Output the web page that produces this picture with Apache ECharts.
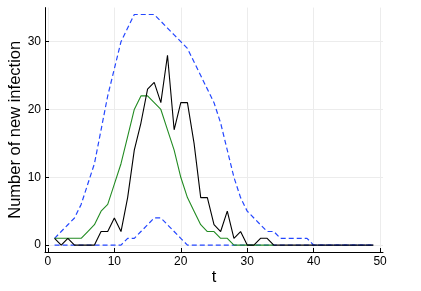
<!DOCTYPE html>
<html><head><meta charset="utf-8">
<script src="https://cdn.jsdelivr.net/npm/echarts@6/dist/echarts.min.js"></script>
<style>html,body{margin:0;padding:0;background:#fff}#c{width:421px;height:291px}</style>
</head><body><div id="c"></div>
<script>
const t = [];
for (let i = 1; i <= 49; i++) t.push(i);
const observed = [1,0,1,0,0,0,0,2,2,4, 2,7,14,18,23,24,21,28,17,21, 21,15,7,7,3,2,5,1,2,0, 0,1,1,0,0,0,0,0,0,0, 0,0,0,0,0,0,0,0,0];
const modelMean = [1,1,1,1,1,2,3,5,6,9, 12,16,20,22,22,21,20,17,14,10, 7,5,3,2,2,1,1,0,0,0, 0,0,0,0];
const upperBand = [1,2,3,4,6,9,12,17,22,26, 30,32,34,34,34,34,33,32,31,30, 29,27,25,23,21,18,14,10,7,5, 4,3,2,2,1,1,1,1,1,0, 0,0,0,0,0,0,0,0,0];
const lowerBand = [0,0,0,0,0,0,0,0,0,0, 0,1,1,2,3,4,4,3,2,1, 0,0,0,0,0,0,0,0,0,0, 0,0,0,0,0,0,0,0,0,0, 0,0,0,0,0,0,0,0,0];
const xTicks = [0,10,20,30,40,50];
const yTicks = [0,10,20,30];

const pairs = arr => arr.map((v, i) => [t[i], v]);
const FONT = 'Liberation Sans';
const chart = echarts.init(document.getElementById('c'), null, {renderer: 'canvas'});
const blue = '#2447ff';
chart.setOption({
  animation: false,
  backgroundColor: '#fff',
  grid: {left: 45, top: 7.6, right: 38, bottom: 39, containLabel: false, outerBoundsMode: 'none'},
  xAxis: {
    type: 'value', min: -0.44, max: 50.44,
    name: 't', nameLocation: 'middle', nameGap: 17, nameMoveOverlap: false,
    nameTextStyle: {fontFamily: FONT, fontSize: 16.5, color: '#000'},
    axisLine: {show: true, onZero: false, lineStyle: {color: '#000', width: 1}},
    axisTick: {show: true, inside: true, length: 4, customValues: xTicks, lineStyle: {color: '#000'}},
    axisLabel: {customValues: xTicks, fontFamily: FONT, fontSize: 12, color: '#000', margin: 4},
    splitLine: {show: true, customValues: xTicks, lineStyle: {color: '#ececec', width: 1}}
  },
  yAxis: {
    type: 'value', min: -1.02, max: 35.02,
    name: 'Number of new infection', nameLocation: 'middle', nameGap: 21, nameMoveOverlap: false,
    nameTextStyle: {fontFamily: FONT, fontSize: 16.5, color: '#000'},
    axisLine: {show: true, onZero: false, lineStyle: {color: '#000', width: 1}},
    axisTick: {show: true, inside: true, length: 4, customValues: yTicks, lineStyle: {color: '#000'}},
    axisLabel: {customValues: yTicks, fontFamily: FONT, fontSize: 12, color: '#000', margin: 4},
    splitLine: {show: true, customValues: yTicks, lineStyle: {color: '#ececec', width: 1}}
  },
  series: [
    {type: 'line', data: pairs(upperBand), showSymbol: false, lineStyle: {color: blue, width: 1.2, type: [5, 3]}, z: 2},
    {type: 'line', data: pairs(lowerBand), showSymbol: false, lineStyle: {color: blue, width: 1.2, type: [5, 3]}, z: 2},
    {type: 'line', data: pairs(modelMean), showSymbol: false, lineStyle: {color: '#228b22', width: 1.1}, z: 3},
    {type: 'line', data: pairs(observed), showSymbol: false, lineStyle: {color: '#000', width: 1.1}, z: 4}
  ]
});
</script></body></html>
